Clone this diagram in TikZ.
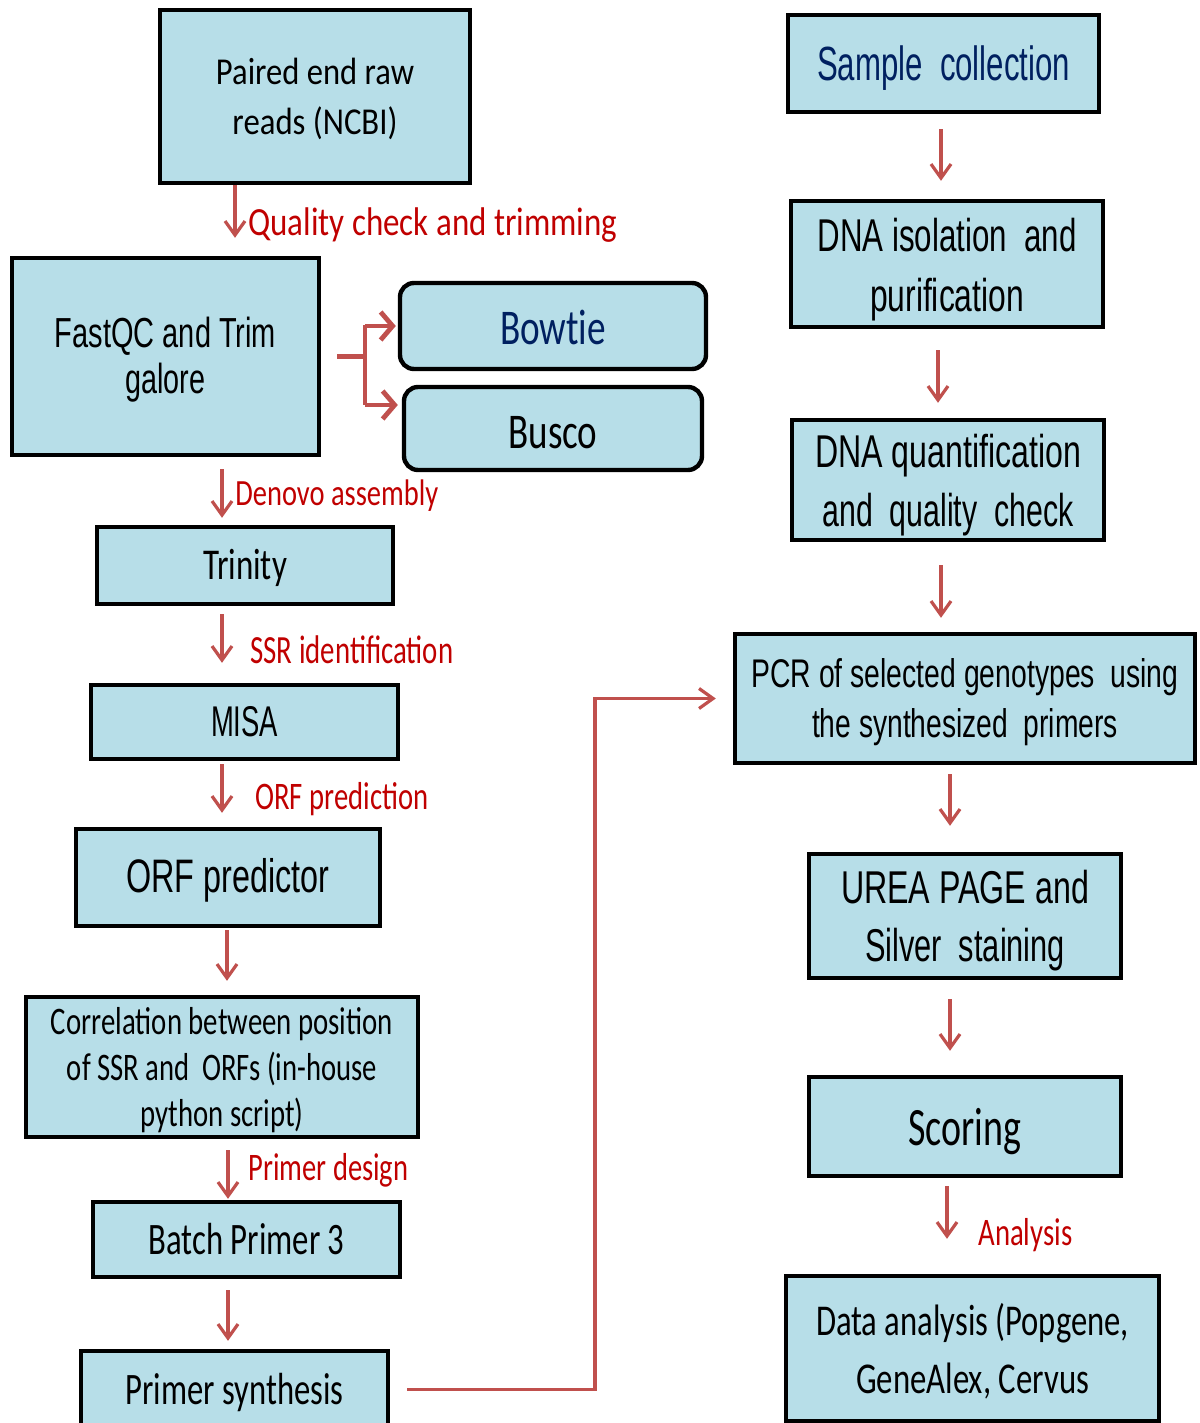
\documentclass[tikz,border=0pt]{standalone}
\usepackage{fontspec}
\setmainfont{Carlito}
\newfontfamily\arialf{Liberation Sans}
\usetikzlibrary{arrows.meta}
\definecolor{boxblue}{HTML}{B7DEE8}
\definecolor{arrred}{HTML}{C0504D}
\definecolor{labred}{HTML}{C00000}
\definecolor{navytxt}{HTML}{002060}
\newcommand\fw[2]{\resizebox{#1}{\height}{#2}}
\tikzset{
  box/.style={draw=black, line width=2.2pt, fill=boxblue, inner sep=0pt},
  rbox/.style={box, rounded corners=7pt},
  tx/.style={inner sep=0pt, align=center, text=black},
  lab/.style={text=labred, anchor=base west, inner sep=0pt},
  arr/.style={draw=arrred, line width=1.6pt, -{Straight Barb[length=7pt,width=10pt,line width=1.6pt]}},
  brl/.style={draw=arrred, line width=2.4pt},
  brarr/.style={brl, -{Straight Barb[length=6pt,width=14pt,line width=2.4pt]}}
}
\begin{document}
\begin{tikzpicture}[x=0.5pt,y=-0.5pt]
\fill[white] (0,0) rectangle (1199,1423);
\useasboundingbox (0,0) rectangle (1199,1423);

% ---------- left column boxes ----------
\node[box, minimum width=155pt, minimum height=86.5pt] (raw) at (315,96.5) {};
\node[tx, font=\fontsize{19}{25}\selectfont] (rawt) at ([yshift=-1pt]raw.center)
  {\fw{99pt}{Paired end raw}\\\fw{82.5pt}{reads (NCBI)}};

\node[box, minimum width=153.5pt, minimum height=98.5pt] (fastqc) at (165.5,356.5) {};
\node[tx, font=\arialf\fontsize{21}{23}\selectfont] (fastqct) at ([yshift=-1.5pt]fastqc.center)
  {\fw{110.5pt}{FastQC and Trim}\\\fw{40pt}{galore}};

\node[rbox, minimum width=153pt, minimum height=43pt] (bowtie) at (553,326) {};
\node[tx, font=\fontsize{25}{27}\selectfont, text=navytxt] (bowtiet) at ([yshift=-0.5pt]bowtie.center)
  {\fw{53pt}{Bowt\kern0pt ie}};

\node[rbox, minimum width=149pt, minimum height=41.5pt] (busco) at (553,428.5) {};
\node[tx, font=\fontsize{25}{27}\selectfont] (buscot) at ([yshift=-2pt]busco.center)
  {\fw{44.5pt}{Busco}};

\node[box, minimum width=148pt, minimum height=38.5pt] (trinity) at (245,565.5) {};
\node[tx, font=\fontsize{22}{24}\selectfont] (trinityt) at ([yshift=-1pt]trinity.center)
  {\fw{42pt}{Trinity}};

\node[box, minimum width=153.5pt, minimum height=37pt] (misa) at (244.5,722) {};
\node[tx, font=\arialf\fontsize{21.5}{23}\selectfont] (misat) at (misa.center)
  {\fw{33.5pt}{MISA}};

\node[box, minimum width=152pt, minimum height=48.5pt] (orfp) at (228,877.5) {};
\node[tx, font=\arialf\fontsize{23.5}{25}\selectfont] (orfpt) at ([yshift=-1.5pt]orfp.center)
  {\fw{101.5pt}{ORF predictor}};

\node[box, minimum width=196pt, minimum height=70pt] (corr) at (222,1067) {};
\node[tx, font=\fontsize{19.5}{23}\selectfont] (corrt) at ([yshift=-1.5pt]corr.center)
  {\fw{171pt}{Correlation between position}\\\fw{155pt}{of SSR and\ \ ORFs (in-house}\\\fw{81.5pt}{python script)}};

\node[box, minimum width=153.5pt, minimum height=37.5pt] (batch) at (246.5,1239.5) {};
\node[tx, font=\fontsize{22.5}{24}\selectfont] (batcht) at (batch.center)
  {\fw{98pt}{Batch Primer 3}};

\node[box, minimum width=153.5pt, minimum height=38.5pt] (synth) at (234.5,1389.5) {};
\node[tx, font=\fontsize{22.5}{24}\selectfont] (syntht) at ([yshift=-1.5pt]synth.center)
  {\fw{109pt}{Primer synthesis}};

% ---------- right column boxes ----------
\node[box, minimum width=155.5pt, minimum height=48.5pt] (sample) at (943.5,63.5) {};
\node[tx, font=\arialf\fontsize{24}{26}\selectfont, text=navytxt] (samplet) at ([yshift=-2.5pt]sample.center)
  {\fw{126.5pt}{Sample\ \ collection}};

\node[box, minimum width=156pt, minimum height=63pt] (iso) at (947,264) {};
\node[tx, font=\arialf\fontsize{23}{30}\selectfont] (isot) at ([yshift=-3pt]iso.center)
  {\fw{129.5pt}{DNA isolation\ \ and}\\\fw{77pt}{purification}};

\node[box, minimum width=156pt, minimum height=60pt] (quant) at (948,480) {};
\node[tx, font=\arialf\fontsize{23}{29.5}\selectfont] (quantt) at ([yshift=-2.5pt]quant.center)
  {\fw{133pt}{DNA quantification}\\\fw{125.5pt}{and\ \ quality\ \ check}};

\node[box, minimum width=230pt, minimum height=64.5pt] (pcr) at (965,698.5) {};
\node[tx, font=\arialf\fontsize{20}{25}\selectfont] (pcrt) at ([yshift=-2pt]pcr.center)
  {\fw{213.5pt}{PCR of selected genotypes\ \ using}\\\fw{153pt}{the synthesized\ \ primers}};

\node[box, minimum width=156pt, minimum height=62pt] (urea) at (965,916) {};
\node[tx, font=\arialf\fontsize{23}{29}\selectfont] (ureat) at ([yshift=-2.5pt]urea.center)
  {\fw{124pt}{UREA PAGE and}\\\fw{100pt}{Silver\ \ staining}};

\node[box, minimum width=156pt, minimum height=49.5pt] (scoring) at (965,1126.5) {};
\node[tx, font=\fontsize{27}{29}\selectfont] (scoringt) at ([yshift=-2.5pt]scoring.center)
  {\fw{56.5pt}{Scoring}};

\node[box, minimum width=186.5pt, minimum height=72.5pt] (data) at (972.5,1348.5) {};
\node[tx, font=\fontsize{22}{29}\selectfont] (datat) at ([yshift=-1.5pt]data.center)
  {\fw{156.5pt}{Data analysis (Popgene,}\\\fw{116.5pt}{GeneAlex, Cervus}};

% ---------- labels ----------
\node[lab, font=\fontsize{20}{22}\selectfont] (l1) at (248,235) {\fw{184.5pt}{Quality check and trimming}};
\node[lab, font=\fontsize{18.5}{20}\selectfont] (l2) at (235,505) {\fw{101.5pt}{Denovo assembly}};
\node[lab, font=\fontsize{20}{22}\selectfont] (l3) at (250,663) {\fw{101.5pt}{SSR identification}};
\node[lab, font=\fontsize{19.5}{22}\selectfont] (l4) at (255,809) {\fw{86.5pt}{ORF prediction}};
\node[lab, font=\fontsize{19.5}{22}\selectfont] (l5) at (248,1180) {\fw{80pt}{Primer design}};
\node[lab, font=\fontsize{19.5}{22}\selectfont] (l6) at (978,1245) {\fw{47pt}{Analysis}};

% ---------- left arrows ----------
\draw[arr, shorten >=9pt] (raw.south -| 235,0) -- (fastqc.north -| 235,0);
\draw[arr, shorten <=6pt, shorten >=3.5pt] (fastqc.south -| 222,0) -- (trinity.north -| 222,0);
\draw[arr, shorten <=4pt, shorten >=10pt] (trinity.south -| 222,0) -- (misa.north -| 222,0);
\draw[arr, shorten <=1.5pt, shorten >=7pt] (misa.south -| 222,0) -- (orfp.north -| 222,0);
\draw[arr, shorten <=1pt, shorten >=7pt] (orfp.south -| 227,0) -- (corr.north -| 227,0);
\draw[arr, shorten <=5.5pt, shorten >=0.5pt] (corr.south -| 228,0) -- (batch.north -| 228,0);
\draw[arr, shorten <=5.5pt, shorten >=4pt] (batch.south -| 228,0) -- (synth.north -| 228,0);

% ---------- branch to Bowtie / Busco ----------
\coordinate (br) at (365,356.5);
\draw[brl, shorten <=8pt] (fastqc.east) -- (br);
\draw[brl] (br |- 0,325) -- (br |- 0,405);
\draw[brarr, shorten >=1pt] (br |- bowtie.west) -- (bowtie.west);
\draw[brarr, shorten >=2pt] (br |- 0,405) -- (busco.west |- 0,405);

% ---------- connector to PCR ----------
\coordinate (corner) at (595,698.5);
\draw[arr, shorten <=8.5pt, shorten >=8.5pt] (synth.east) -| (corner) -- (pcr.west);

% ---------- right arrows ----------
\draw[arr, shorten <=7.5pt, shorten >=9pt] (sample.south -| 941,0) -- (iso.north -| 941,0);
\draw[arr, shorten <=10.5pt, shorten >=7.5pt] (iso.south -| 938,0) -- (quant.north -| 938,0);
\draw[arr, shorten <=11.5pt, shorten >=7pt] (quant.south -| 941,0) -- (pcr.north -| 941,0);
\draw[arr, shorten <=4.5pt, shorten >=13pt] (pcr.south -| 950,0) -- (urea.north -| 950,0);
\draw[arr, shorten <=9.5pt, shorten >=12pt] (urea.south -| 950,0) -- (scoring.north -| 950,0);
\draw[arr, shorten <=4pt, shorten >=17.5pt] (scoring.south -| 947,0) -- (data.north -| 947,0);
\end{tikzpicture}
\end{document}
